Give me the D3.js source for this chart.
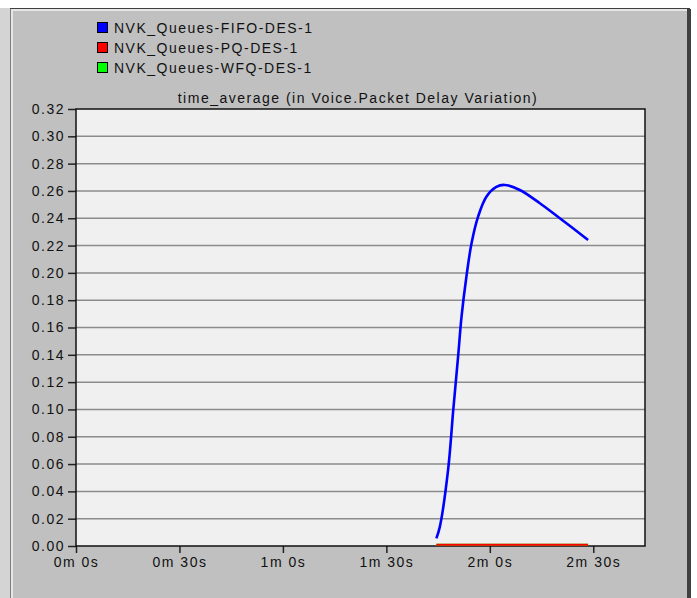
<!DOCTYPE html>
<html lang="en">
<head>
<meta charset="UTF-8">
<title>time_average (in Voice.Packet Delay Variation)</title>
<script src="https://d3js.org/d3.v7.min.js"></script>
<style>
    body { margin: 0; background: #ffffff; }
    svg { display: block; font-family: Arial, 'Liberation Sans', sans-serif; }
    .tick-label { font-size: 14px; fill: #111; letter-spacing: 1.5px; }
    .legend-text { font-size: 14px; fill: #111; letter-spacing: 1.5px; }
    .title { font-size: 14px; fill: #111; letter-spacing: 1.5px; }
    .grid line { stroke: #8c8c8c; stroke-width: 1.5; }
</style>
</head>
<body>
<svg width="697" height="598"></svg>
<script>
// simulation time in seconds
const timeSec = [104.5, 105.5, 107.9, 109.4, 110.8, 111.8, 113.2, 114.7, 116.6, 119.0, 121.9, 124.3, 128.7, 134.5, 140.3, 148.5];
const fifoValues = [0.0056, 0.014, 0.0557, 0.0996, 0.1386, 0.168, 0.197, 0.2217, 0.2412, 0.2558, 0.263, 0.2644, 0.2607, 0.251, 0.24, 0.2241];
const pqValues = [0.001, 0.001, 0.001, 0.001, 0.001, 0.001, 0.001, 0.001, 0.001, 0.001, 0.001, 0.001, 0.001, 0.001, 0.001, 0.001];
const wfqValues = [0.001, 0.001, 0.001, 0.001, 0.001, 0.001, 0.001, 0.001, 0.001, 0.001, 0.001, 0.001, 0.001, 0.001, 0.001, 0.001];
const seriesNames = ["NVK_Queues-FIFO-DES-1", "NVK_Queues-PQ-DES-1", "NVK_Queues-WFQ-DES-1"];
const seriesColors = ["#0000ff", "#ff0000", "#00ff00"];
const xTicks = [0, 30, 60, 90, 120, 150];
const yTicks = [0, 0.02, 0.04, 0.06, 0.08, 0.10, 0.12, 0.14, 0.16, 0.18, 0.20, 0.22, 0.24, 0.26, 0.28, 0.30, 0.32];
const chartTitle = "time_average (in Voice.Packet Delay Variation)";

const svg = d3.select("svg");

// panel frame
svg.append("rect").attr("x", 0).attr("y", 8).attr("width", 10).attr("height", 590).attr("fill", "#d4d4d4");
svg.append("rect").attr("x", 10).attr("y", 8).attr("width", 680).attr("height", 590).attr("fill", "#c0c0c0");
svg.append("line").attr("x1", 10).attr("y1", 8.5).attr("x2", 690).attr("y2", 8.5).attr("stroke", "#404040").attr("stroke-width", 1);
svg.append("line").attr("x1", 11).attr("y1", 10).attr("x2", 687).attr("y2", 10).attr("stroke", "#e6e6e6").attr("stroke-width", 2);
svg.append("line").attr("x1", 10.5).attr("y1", 9).attr("x2", 10.5).attr("y2", 598).attr("stroke", "#808080").attr("stroke-width", 1);
svg.append("line").attr("x1", 12).attr("y1", 11).attr("x2", 12).attr("y2", 598).attr("stroke", "#e6e6e6").attr("stroke-width", 2);
svg.append("rect").attr("x", 687).attr("y", 9).attr("width", 4).attr("height", 589).attr("fill", "#404040");
svg.append("rect").attr("x", 691).attr("y", 9).attr("width", 6).attr("height", 589).attr("fill", "#ffffff");

const plot = { left: 76, right: 645, top: 109, bottom: 546 };

const x = d3.scaleLinear().domain([0, 165]).range([plot.left, plot.right]);
const y = d3.scaleLinear().domain([0, 0.32]).range([plot.bottom, plot.top]);

svg.append("rect")
    .attr("x", plot.left).attr("y", plot.top)
    .attr("width", plot.right - plot.left).attr("height", plot.bottom - plot.top)
    .attr("fill", "#f0f0f0");

// horizontal grid
svg.append("g").attr("class", "grid")
    .selectAll("line").data(yTicks.slice(1, -1)).join("line")
    .attr("x1", plot.left).attr("x2", plot.right)
    .attr("y1", d => y(d)).attr("y2", d => y(d));

// axes
const fmtTime = s => `${Math.floor(s / 60)}m ${s % 60}s`;

const yAxis = svg.append("g")
    .attr("transform", `translate(${plot.left},0)`)
    .call(d3.axisLeft(y).tickValues(yTicks).tickFormat(d3.format(".2f")).tickSize(8).tickPadding(3));
const xAxis = svg.append("g")
    .attr("transform", `translate(0,${plot.bottom})`)
    .call(d3.axisBottom(x).tickValues(xTicks).tickFormat(fmtTime).tickSize(7).tickPadding(4));

[yAxis, xAxis].forEach(g => {
    g.select(".domain").remove();
    g.selectAll(".tick line").attr("stroke", "#222").attr("stroke-width", 1.5);
    g.selectAll(".tick text").attr("class", "tick-label").attr("font-family", null).attr("font-size", null).attr("fill", null);
});

// plot border
svg.append("rect")
    .attr("x", plot.left).attr("y", plot.top)
    .attr("width", plot.right - plot.left).attr("height", plot.bottom - plot.top)
    .attr("fill", "none").attr("stroke", "#111").attr("stroke-width", 1.5);

// series
const line = d3.line().x(d => x(d[0])).y(d => y(d[1])).curve(d3.curveCatmullRom);
const seriesData = [fifoValues, pqValues, wfqValues];
[2, 1, 0].forEach(i => {
    svg.append("path")
        .datum(timeSec.map((t, k) => [t, seriesData[i][k]]))
        .attr("d", line)
        .attr("fill", "none")
        .attr("stroke", seriesColors[i])
        .attr("stroke-width", i === 0 ? 2.6 : 2);
});

// title
svg.append("text").attr("class", "title")
    .attr("x", 358).attr("y", 103).attr("text-anchor", "middle")
    .text(chartTitle);

// legend
const legend = svg.append("g").attr("transform", "translate(97,22)");
seriesNames.forEach((name, i) => {
    const row = legend.append("g").attr("transform", `translate(0,${i * 20})`);
    row.append("rect").attr("x", 0.5).attr("y", 0.5).attr("width", 10).attr("height", 10)
        .attr("fill", seriesColors[i]).attr("stroke", "#000").attr("stroke-width", 1);
    row.append("text").attr("class", "legend-text").attr("x", 17).attr("y", 11).text(name);
});
</script>
</body>
</html>
